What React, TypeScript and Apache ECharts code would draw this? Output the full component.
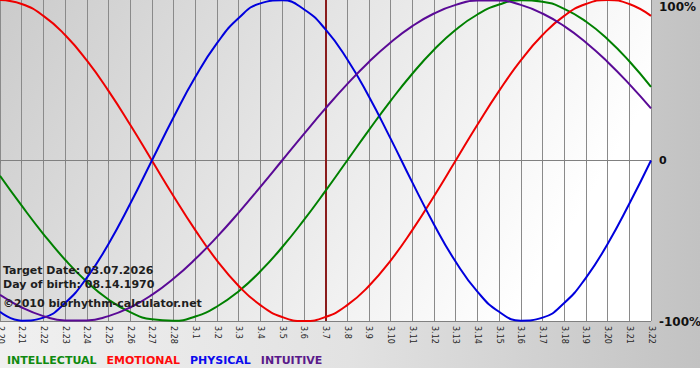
import React, { useEffect, useRef } from "react";
import * as echarts from "echarts";

const days = [
  "2.20", "2.21", "2.22", "2.23", "2.24", "2.25", "2.26", "2.27", "2.28",
  "3.1", "3.2", "3.3", "3.4", "3.5", "3.6", "3.7", "3.8", "3.9", "3.10",
  "3.11", "3.12", "3.13", "3.14", "3.15", "3.16", "3.17", "3.18", "3.19",
  "3.20", "3.21", "3.22",
];

const intellectual = [
  -9.51, -28.17, -45.82, -61.82, -75.57, -86.6, -94.5, -98.98, -99.89, -97.18,
  -90.96, -81.46, -69.01, -54.06, -37.17, -18.93, 0, 18.93, 37.17, 54.06,
  69.01, 81.46, 90.96, 97.18, 99.89, 98.98, 94.5, 86.6, 75.57, 61.82, 45.82,
];

const emotional = [
  100, 97.49, 90.1, 78.18, 62.35, 43.39, 22.25, 0, -22.25, -43.39, -62.35,
  -78.18, -90.1, -97.49, -100, -97.49, -90.1, -78.18, -62.35, -43.39, -22.25,
  0, 22.25, 43.39, 62.35, 78.18, 90.1, 97.49, 100, 97.49, 90.1,
];

const physical = [
  -94.23, -99.77, -97.91, -88.79, -73.08, -51.96, -26.98, 0, 26.98, 51.96,
  73.08, 88.79, 97.91, 99.77, 94.23, 81.7, 63.11, 39.84, 13.62, -13.62,
  -39.84, -63.11, -81.7, -94.23, -99.77, -97.91, -88.79, -73.08, -51.96,
  -26.98, 0,
];

const intuitive = [
  -83.72, -91.58, -96.94, -99.66, -99.66, -96.94, -91.58, -83.72, -73.57,
  -61.42, -47.59, -32.47, -16.46, 0, 16.46, 32.47, 47.59, 61.42, 73.57, 83.72,
  91.58, 96.94, 99.66, 99.66, 96.94, 91.58, 83.72, 73.57, 61.42, 47.59, 32.47,
];

const yTicks = [-100, 0, 100];
const targetDay = "3.7";
const overlayTexts = [
  "Target Date: 03.07.2026",
  "Day of birth: 08.14.1970",
  "\u00a92010 biorhythm-calculator.net",
];

const FONT = "DejaVu Sans, Verdana, sans-serif";

export default function App() {
  const ref = useRef<HTMLDivElement>(null);

  useEffect(() => {
    document.body.style.margin = "0";
    const chart = echarts.init(ref.current!, null, { renderer: "svg" });

    const mk = (name: string, data: number[], color: string) => ({
      name,
      type: "line",
      data,
      smooth: true,
      showSymbol: false,
      symbol: "none",
      lineStyle: { color, width: 2 },
      itemStyle: { color },
      z: 3,
    });

    const series: any[] = [
      mk("INTELLECTUAL", intellectual, "#008000"),
      mk("EMOTIONAL", emotional, "#ee0000"),
      mk("PHYSICAL", physical, "#0000dd"),
      mk("INTUITIVE", intuitive, "#5a0a96"),
    ];
    series[0].markLine = {
      silent: true,
      symbol: "none",
      label: { show: false },
      lineStyle: { color: "#8a1c1c", width: 2, type: "solid" },
      data: [{ xAxis: targetDay }],
      z: 2,
    };

    chart.setOption({
      animation: false,
      grid: {
        left: 0,
        right: 49,
        top: 0,
        bottom: 47,
        containLabel: false,
        outerBoundsMode: "none",
        show: true,
        borderWidth: 0,
        backgroundColor: new echarts.graphic.LinearGradient(0, 0, 1, 0.3, [
          { offset: 0, color: "#cbcbcb" },
          { offset: 1, color: "#ffffff" },
        ]),
      },
      legend: {
        left: 2,
        top: 355,
        padding: 0,
        itemGap: 5,
        itemWidth: 0,
        itemHeight: 0,
        icon: "none",
        selectedMode: false,
        textStyle: { fontFamily: FONT, fontSize: 11, fontWeight: "bold" },
        data: [
          { name: "INTELLECTUAL", textStyle: { color: "#108a10" } },
          { name: "EMOTIONAL", textStyle: { color: "#ff0a0a" } },
          { name: "PHYSICAL", textStyle: { color: "#0a0aee" } },
          { name: "INTUITIVE", textStyle: { color: "#5a1a8a" } },
        ],
      },
      xAxis: {
        type: "category",
        data: days,
        boundaryGap: false,
        axisLine: { show: true, lineStyle: { color: "#808080", width: 1 } },
        axisTick: { show: true, length: 3, interval: 0, lineStyle: { color: "#808080" } },
        splitLine: { show: true, interval: 0, lineStyle: { color: "#8a8a8a", width: 1 } },
        axisLabel: {
          interval: 0,
          rotate: -90,
          margin: 5,
          fontFamily: FONT,
          fontSize: 8,
          color: "#262626",
        },
      },
      yAxis: {
        type: "value",
        position: "right",
        min: yTicks[0],
        max: yTicks[2],
        interval: 100,
        axisLine: { show: false },
        axisTick: { show: false },
        splitLine: {
          show: true,
          lineStyle: { color: ["#808080", "#8a8a8a", "rgba(0,0,0,0)"], width: 1 },
        },
        axisLabel: {
          margin: 8,
          formatter: (v: number) =>
            v === 100 ? "{t|100%}" : v === 0 ? "{z|0}" : "{b|-100%}",
          rich: {
            t: { fontFamily: FONT, fontSize: 12, fontWeight: "bold", color: "#111", padding: [14, 0, 0, 0] },
            z: { fontFamily: FONT, fontSize: 11, fontWeight: "bold", color: "#111" },
            b: { fontFamily: FONT, fontSize: 12, fontWeight: "bold", color: "#111", padding: [2, 0, 0, 0] },
          },
        },
      },
      graphic: overlayTexts.map((t, i) => ({
        type: "text",
        left: 3,
        top: [265, 279, 298][i],
        z: 100,
        style: {
          text: t,
          font: `bold 11px ${FONT}`,
          fill: "#1e1e1e",
        },
      })),
      series,
    });

    return () => chart.dispose();
  }, []);

  return (
    <div style={{ width: 700, height: 380, background: "#ffffff" }}>
      <div
        ref={ref}
        style={{
          width: 700,
          height: 368,
          background: "linear-gradient(to right, #f0f0f0 0%, #e2e2e2 50%, #c2c2c2 100%)",
        }}
      />
    </div>
  );
}
